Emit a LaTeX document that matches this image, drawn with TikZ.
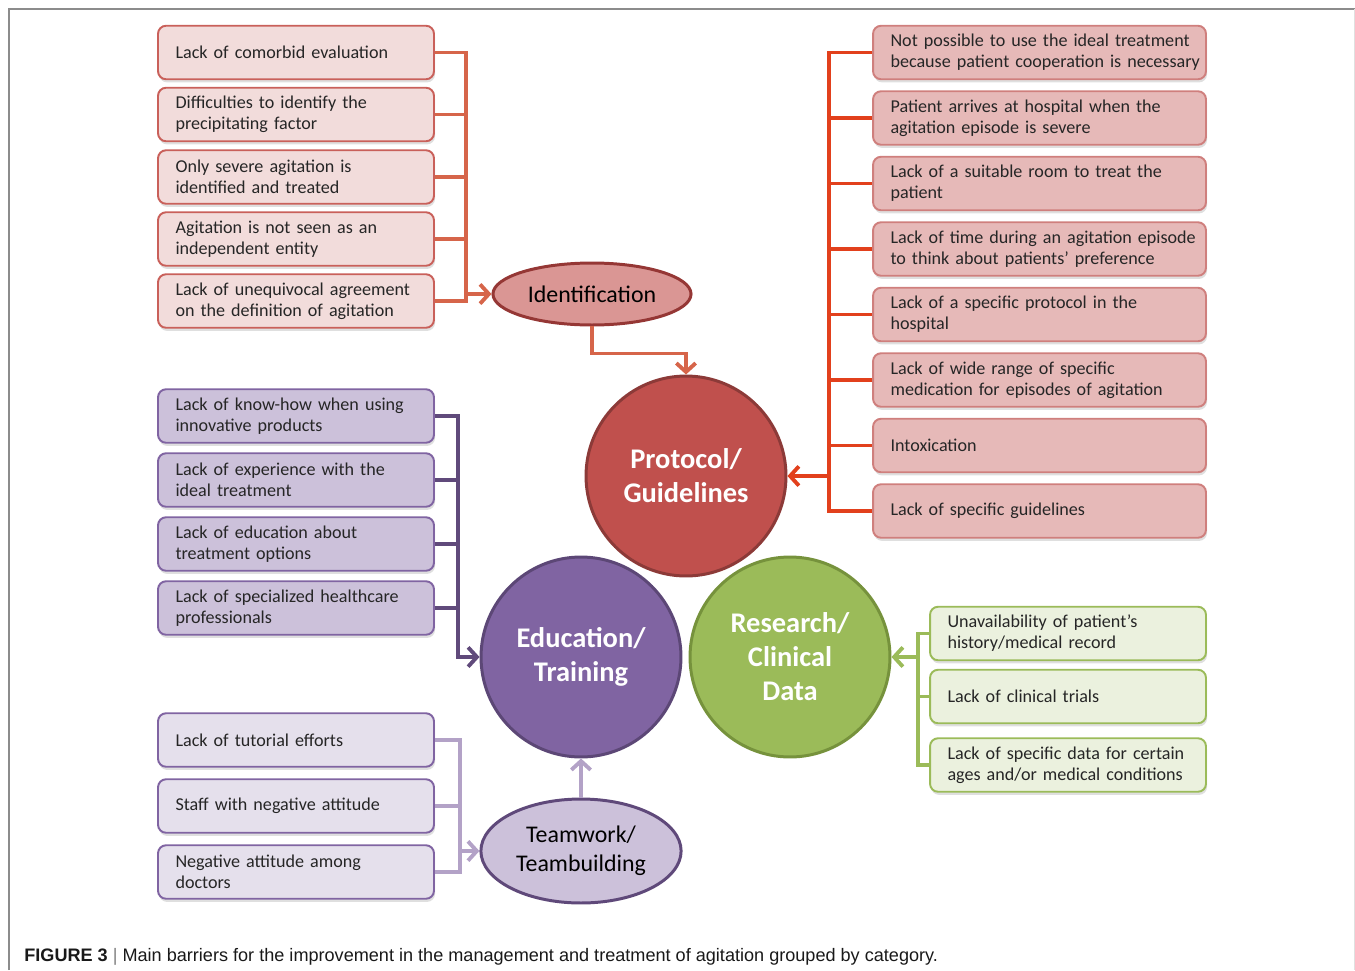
\documentclass[tikz,border=0pt]{standalone}
\usepackage{fontspec}
\setmainfont{Carlito}
\newfontfamily\capfont{Liberation Sans}
\usetikzlibrary{shapes.geometric,arrows.meta,shadows}
\definecolor{idfill}{HTML}{F2DCDB}
\definecolor{idedge}{HTML}{C9605A}
\definecolor{idline}{HTML}{D6654A}
\definecolor{idell}{HTML}{DA9694}
\definecolor{idelledge}{HTML}{953735}
\definecolor{prfill}{HTML}{E6B9B8}
\definecolor{predge}{HTML}{CF7F7D}
\definecolor{prline}{HTML}{E2401C}
\definecolor{prcirc}{HTML}{C0504D}
\definecolor{prcircedge}{HTML}{8C3A38}
\definecolor{edfill}{HTML}{CCC1DA}
\definecolor{ededge}{HTML}{8064A2}
\definecolor{edline}{HTML}{604A7B}
\definecolor{edcirc}{HTML}{8064A2}
\definecolor{edcircedge}{HTML}{5C4776}
\definecolor{tmfill}{HTML}{E5E0EC}
\definecolor{tmline}{HTML}{B3A2C7}
\definecolor{tmell}{HTML}{CCC1DA}
\definecolor{tmelledge}{HTML}{5F497A}
\definecolor{rsfill}{HTML}{EBF1DE}
\definecolor{rsedge}{HTML}{9BBB59}
\definecolor{rsline}{HTML}{9BBB59}
\definecolor{rscirc}{HTML}{9BBB59}
\definecolor{rscircedge}{HTML}{76923C}
\begin{document}
\begin{tikzpicture}[x=0.02cm, y=-0.02cm,
  box/.style={draw, rounded corners=0.16cm, line width=1.1pt, minimum height=1.07cm, inner xsep=0.35cm, inner ysep=0pt, text width=4.82cm, align=left, text=black!85, font=\fontsize{10.3}{12}\selectfont, drop shadow={shadow xshift=0.6pt, shadow yshift=-1.8pt, opacity=0.25}},
  widebox/.style={box, text width=5.96cm},
  conn/.style={line width=2.2pt},
  arrowed/.style={-{Straight Barb[length=5pt,width=11pt]}},
  bigcirc/.style={circle, draw, line width=1.7pt, minimum size=4cm, inner sep=0pt, align=center, text=white, font=\bfseries\fontsize{16.2}{19.3}\selectfont}]
\useasboundingbox (0,0) rectangle (1355,970);
\draw[black!45, line width=0.8pt] (9,970) -- (9,9) -- (1355,9);
\draw[black!12] (1354,9) -- (1354,970);

\node[box, fill=idfill, draw=idedge] (i1) at (296,52.5) {Lack of comorbid evaluation};
\node[box, fill=idfill, draw=idedge] (i2) at (296,114.5) {Difficulties to identify the\\precipitating factor};
\node[box, fill=idfill, draw=idedge] (i3) at (296,177) {Only severe agitation is\\identified and treated};
\node[box, fill=idfill, draw=idedge] (i4) at (296,239) {Agitation is not seen as an\\independent entity};
\node[box, fill=idfill, draw=idedge] (i5) at (296,301) {Lack of unequivocal agreement\\on the definition of agitation};
\node[ellipse, draw=idelledge, fill=idell, line width=1.7pt, minimum width=3.74cm, minimum height=1.24cm, font=\fontsize{13.6}{16}\selectfont] (ident) at (592,294) {Identification};

\node[bigcirc, fill=prcirc, draw=prcircedge] (proto) at (686,476) {Protocol/\\Guidelines};
\node[widebox, fill=prfill, draw=predge] (r1) at (1039.5,52.5) {\mbox{Not possible to use the ideal treatment}\\\mbox{because patient cooperation is necessary}};
\node[widebox, fill=prfill, draw=predge] (r2) at (1039.5,118) {Patient arrives at hospital when the\\agitation episode is severe};
\node[widebox, fill=prfill, draw=predge] (r3) at (1039.5,183.5) {Lack of a suitable room to treat the\\patient};
\node[widebox, fill=prfill, draw=predge] (r4) at (1039.5,249) {\mbox{Lack of time during an agitation episode}\\to think about patients' preference};
\node[widebox, fill=prfill, draw=predge] (r5) at (1039.5,314.5) {Lack of a specific protocol in the\\hospital};
\node[widebox, fill=prfill, draw=predge] (r6) at (1039.5,380) {Lack of wide range of specific\\medication for episodes of agitation};
\node[widebox, fill=prfill, draw=predge] (r7) at (1039.5,445.5) {Intoxication};
\node[widebox, fill=prfill, draw=predge] (r8) at (1039.5,511) {Lack of specific guidelines};

\node[box, fill=edfill, draw=ededge] (e1) at (296,416) {Lack of know-how when using\\innovative products};
\node[box, fill=edfill, draw=ededge] (e2) at (296,480) {Lack of experience with the\\ideal treatment};
\node[box, fill=edfill, draw=ededge] (e3) at (296,544) {Lack of education about\\treatment options};
\node[box, fill=edfill, draw=ededge] (e4) at (296,608) {Lack of specialized healthcare\\professionals};
\node[bigcirc, fill=edcirc, draw=edcircedge] (edu) at (581,657) {Education/\\Training};

\node[bigcirc, fill=rscirc, draw=rscircedge] (res) at (790,657) {Research/\\Clinical\\Data};
\node[box, fill=rsfill, draw=rsedge] (g1) at (1068,633.5) {Unavailability of patient's\\history/medical record};
\node[box, fill=rsfill, draw=rsedge] (g2) at (1068,696.5) {Lack of clinical trials};
\node[box, fill=rsfill, draw=rsedge] (g3) at (1068,765) {Lack of specific data for certain\\ages and/or medical conditions};

\node[box, fill=tmfill, draw=ededge] (t1) at (296,740) {Lack of tutorial efforts};
\node[box, fill=tmfill, draw=ededge] (t2) at (296,806) {Staff with negative attitude};
\node[box, fill=tmfill, draw=ededge] (t3) at (296,872) {Negative attitude among\\doctors};
\node[ellipse, draw=tmelledge, fill=tmell, line width=1.7pt, minimum width=3.96cm, minimum height=2.08cm, align=center, font=\fontsize{13.6}{16.4}\selectfont] (team) at (581,851) {Teamwork/\\Teambuilding};

\coordinate (idbus) at (466,0);
\coordinate (prbus) at (829,0);
\coordinate (edbus) at (458,0);
\coordinate (tmbus) at (460,0);
\coordinate (rsbus) at (918,0);

\draw[conn, color=idline] (i1.east) -| (i5.east -| idbus) -- (i5.east);
\draw[conn, color=idline] (i2.east) -- (i2.east -| idbus);
\draw[conn, color=idline] (i3.east) -- (i3.east -| idbus);
\draw[conn, color=idline] (i4.east) -- (i4.east -| idbus);
\draw[conn, color=idline, arrowed] (ident.west -| idbus) -- (ident.west);
\draw[conn, color=idline, arrowed] (ident.south) -- ++(0,27) -| (proto.north);

\draw[conn, color=prline] (r1.west) -| (r8.west -| prbus) -- (r8.west);
\draw[conn, color=prline] (r2.west) -- (r2.west -| prbus);
\draw[conn, color=prline] (r3.west) -- (r3.west -| prbus);
\draw[conn, color=prline] (r4.west) -- (r4.west -| prbus);
\draw[conn, color=prline] (r5.west) -- (r5.west -| prbus);
\draw[conn, color=prline] (r6.west) -- (r6.west -| prbus);
\draw[conn, color=prline] (r7.west) -- (r7.west -| prbus);
\draw[conn, color=prline, arrowed] (proto.east -| prbus) -- (proto.east);

\draw[conn, color=edline, arrowed] (e1.east) -| (edu.west -| edbus) -- (edu.west);
\draw[conn, color=edline] (e2.east) -- (e2.east -| edbus);
\draw[conn, color=edline] (e3.east) -- (e3.east -| edbus);
\draw[conn, color=edline] (e4.east) -- (e4.east -| edbus);

\draw[conn, color=rsline] (g1.west) -| (g3.west -| rsbus) -- (g3.west);
\draw[conn, color=rsline] (g2.west) -- (g2.west -| rsbus);
\draw[conn, color=rsline, arrowed] (res.east -| rsbus) -- (res.east);

\draw[conn, color=tmline] (t1.east) -| (t3.east -| tmbus) -- (t3.east);
\draw[conn, color=tmline] (t2.east) -- (t2.east -| tmbus);
\draw[conn, color=tmline, arrowed] (team.west -| tmbus) -- (team.west);
\draw[conn, color=tmline, arrowed] (team.north) -- (edu.south);

\node[anchor=base west, inner sep=0pt, text=black!90, font=\capfont\fontsize{10.3}{12}\selectfont] (caption) at (24,961) {\textbf{FIGURE 3} {\color{black!50}|} Main barriers for the improvement in the management and treatment of agitation grouped by category.};
\end{tikzpicture}
\end{document}
